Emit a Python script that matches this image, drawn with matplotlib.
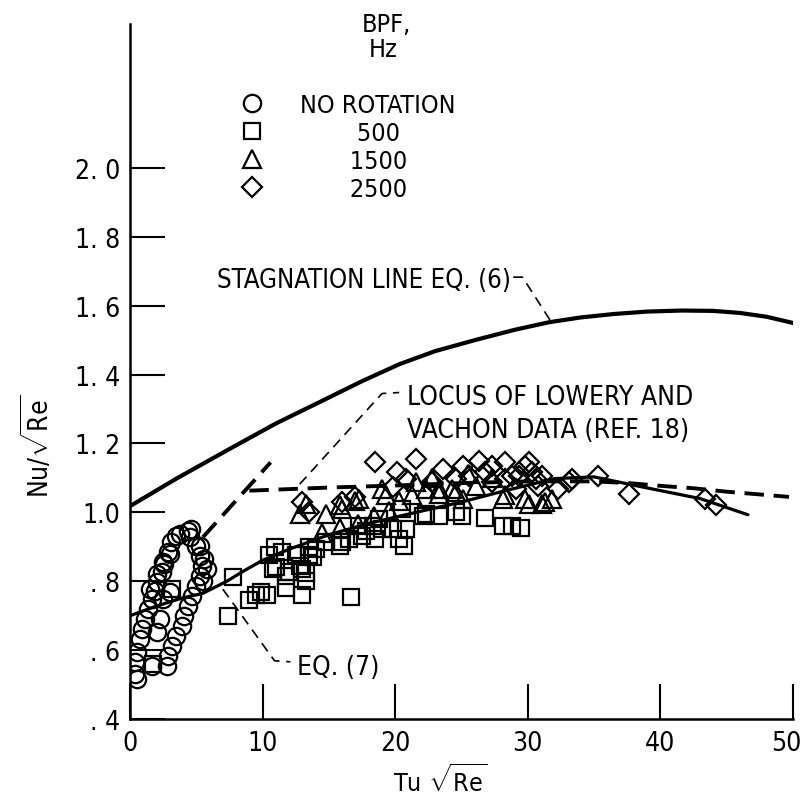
import matplotlib
matplotlib.use('Agg')
import matplotlib.pyplot as plt
from matplotlib import font_manager
from matplotlib.transforms import ScaledTranslation

# pick a narrow face if one is there
names = {f.name for f in font_manager.fontManager.ttflist}
if 'Liberation Sans Narrow' in names:
    FONT, STRETCH = 'Liberation Sans Narrow', 'normal'
else:
    FONT, STRETCH = 'DejaVu Sans', 'condensed'
plt.rcParams['font.family'] = [FONT, 'DejaVu Sans']
plt.rcParams['font.stretch'] = STRETCH
plt.rcParams['mathtext.fontset'] = 'custom'
plt.rcParams['mathtext.rm'] = FONT
plt.rcParams['mathtext.it'] = FONT

# --- data ---
# no rotation (circles)
circ_x = [4.4, 3.5, 4.5, 3.0, 2.6, 2.4, 2.0, 1.9, 1.65, 1.35, 1.1, 0.9, 0.75, 0.55, 0.4, 0.4, 0.55,
          5.0, 5.3, 5.4, 5.3, 5.0, 4.7, 4.4, 4.1, 3.9, 3.5, 3.2, 2.9, 2.8,
          2.3, 2.0, 1.65, 3.0, 2.5, 4.6, 3.8, 3.1, 2.9, 2.5, 5.3, 5.6, 5.8, 5.5, 2.0, 1.5]
circ_y = [0.946, 0.931, 0.928, 0.879, 0.850, 0.827, 0.798, 0.772, 0.748, 0.719, 0.690, 0.661, 0.632, 0.595, 0.566, 0.531, 0.516,
          0.902, 0.873, 0.844, 0.815, 0.786, 0.757, 0.728, 0.699, 0.670, 0.641, 0.612, 0.583, 0.554,
          0.690, 0.653, 0.554, 0.769, 0.748, 0.952, 0.937, 0.913, 0.885, 0.856, 0.903, 0.865, 0.835, 0.800, 0.820, 0.777]

# 500 Hz (squares)
sq_x = [1.7, 3.2, 7.4, 7.8, 9.0, 9.5, 9.9, 10.3, 10.5, 10.8, 10.9, 11.0, 11.5, 11.8, 11.8, 12.0, 12.5, 12.8,
        13.0, 13.0, 13.3, 13.3, 13.5, 13.5, 13.8, 14.0, 14.8, 15.8, 16.0, 16.5, 16.7, 17.3, 17.5, 17.8,
        18.3, 18.5, 18.8, 19.0, 19.8, 20.3, 20.5, 20.7, 20.8, 22.1, 22.3, 23.3, 24.6, 25.0, 26.8, 28.1,
        28.8, 29.5]
sq_y = [0.560, 0.777, 0.700, 0.811, 0.745, 0.760, 0.770, 0.760, 0.875, 0.835, 0.900, 0.840, 0.885, 0.815, 0.780, 0.826, 0.875, 0.845,
        0.835, 0.760, 0.800, 0.825, 0.900, 0.875, 0.870, 0.895, 0.913, 0.903, 0.913, 0.923, 0.755, 0.960, 0.932, 0.947,
        0.960, 0.923, 0.980, 0.952, 0.952, 0.923, 1.010, 0.903, 0.952, 0.990, 0.995, 0.990, 1.000, 0.990, 0.985, 0.960,
        0.960, 0.956]

# 1500 Hz (triangles)
tri_x = [12.8, 13.3, 14.5, 14.8, 15.8, 15.8, 16.0, 17.0, 17.2, 17.3, 18.4, 19.0, 19.3, 19.5, 20.3, 21.3, 21.6,
         22.3, 23.3, 23.3, 24.3, 24.6, 25.1, 26.1, 28.1, 28.3, 29.8, 30.1, 31.1, 31.3, 31.8, 22.8, 25.5, 27.3]
tri_y = [0.995, 1.025, 0.940, 0.995, 0.956, 1.020, 1.010, 1.034, 0.966, 1.040, 0.990, 1.068, 1.050, 1.005, 1.034, 1.050, 1.087,
         1.068, 1.053, 1.068, 1.068, 1.058, 1.039, 1.077, 1.039, 1.050, 1.040, 1.025, 1.025, 1.030, 1.040, 1.100, 1.110, 1.100]

# 2500 Hz (diamonds)
dia_x = [13.0, 13.5, 16.0, 17.0, 18.5, 19.8, 20.1, 20.8, 21.6, 22.8, 23.6, 24.6, 25.1, 25.6, 26.3, 26.8, 27.3, 27.3,
         28.3, 28.3, 28.8, 29.1, 29.3, 29.8, 30.1, 30.3, 30.6, 30.8, 31.1, 32.3, 33.1, 33.3, 35.3, 37.6, 43.4, 44.2]
dia_y = [1.030, 1.000, 1.030, 1.045, 1.145, 1.073, 1.116, 1.097, 1.155, 1.087, 1.126, 1.097, 1.135, 1.107, 1.150, 1.116, 1.135, 1.087,
         1.145, 1.097, 1.107, 1.068, 1.107, 1.135, 1.145, 1.116, 1.097, 1.077, 1.107, 1.068, 1.087, 1.097, 1.107, 1.053, 1.039, 1.020]

# stagnation line, eq. (6)
stag_x = [0, 3.5, 7.5, 11, 14.5, 17.5, 20.3, 23, 26, 29, 31.6, 34, 36.5, 39, 41.6, 44, 46, 48, 50]
stag_y = [1.018, 1.098, 1.184, 1.258, 1.324, 1.381, 1.430, 1.468, 1.500, 1.530, 1.552, 1.566, 1.576, 1.583, 1.586, 1.585, 1.579, 1.568, 1.550]

# eq. (7)
eq7_x = [0, 2, 4, 5.5, 7.3, 8.5, 10, 12, 15, 18, 21, 25, 28, 32, 35, 38.6, 43, 46.6]
eq7_y = [0.700, 0.728, 0.752, 0.765, 0.800, 0.828, 0.861, 0.893, 0.935, 0.968, 0.995, 1.030, 1.060, 1.098, 1.103, 1.074, 1.040, 0.993]

# locus of Lowery and Vachon data
loc1_x = [5.5, 10.6]
loc1_y = [0.928, 1.145]
loc2_x = [9.0, 15, 20, 25, 30, 35, 37.6, 40, 42.5, 45, 49.7]
loc2_y = [1.063, 1.072, 1.078, 1.085, 1.090, 1.090, 1.085, 1.077, 1.070, 1.060, 1.045]

yticks = [0.4, 0.6, 0.8, 1.0, 1.2, 1.4, 1.6, 1.8, 2.0]
ylabels = ['. 4', '. 6', '. 8', '1.0', '1. 2', '1. 4', '1. 6', '1. 8', '2. 0']
xticks = [0, 10, 20, 30, 40, 50]
xlabels = ['0', '10', '20', '30', '40', '50']

W, H = 806, 803
fig = plt.figure(figsize=(W / 100, H / 100), dpi=100)
ax = fig.add_axes([130 / W, 83 / H, 663 / W, 695 / H])
ax.set_xlim(0, 50)
ax.set_ylim(0.4, 2.418)

for s in ['top', 'right']:
    ax.spines[s].set_visible(False)
for s in ['left', 'bottom']:
    ax.spines[s].set_linewidth(1.8)

ax.set_xticks(xticks)
ax.set_xticklabels(xlabels)
ax.set_yticks(yticks)
ax.set_yticklabels(ylabels)
ax.tick_params(direction='in', length=25, width=1.5, labelsize=19)
ax.tick_params(axis='x', pad=8)
ax.tick_params(axis='y', pad=7)
# keep the last x label inside the picture
last = ax.get_xticklabels()[-1]
last.set_transform(last.get_transform() + ScaledTranslation(-5 / 72, 0, fig.dpi_scale_trans))

# curves
ax.plot(stag_x, stag_y, color='k', lw=3.0, solid_capstyle='round')
ax.plot(eq7_x, eq7_y, color='k', lw=2.3, solid_capstyle='round')
ax.plot(loc1_x, loc1_y, color='k', lw=2.8, dashes=(5, 2.5))
ax.plot(loc2_x, loc2_y, color='k', lw=2.8, dashes=(5, 2.5))

mk = dict(ls='none', mfc='none', mec='k', mew=1.6)
h1, = ax.plot(circ_x, circ_y, marker='o', ms=12.5, label='NO ROTATION', **mk)
h2, = ax.plot(sq_x, sq_y, marker='s', ms=11, label='        500', **mk)
h3, = ax.plot(tri_x, tri_y, marker='^', ms=13, label='       1500', **mk)
h4, = ax.plot(dia_x, dia_y, marker='D', ms=10, label='       2500', **mk)

leg = ax.legend(handles=[h1, h2, h3, h4], loc='upper left',
                bbox_to_anchor=(240 / W, 1 - 94 / H), bbox_transform=fig.transFigure,
                frameon=False, borderpad=0, borderaxespad=0, handlelength=1.0,
                handletextpad=1.4, labelspacing=0.16, fontsize=18)
fig.text(386 / W, 1 - 25 / H, 'BPF,', ha='center', va='center', fontsize=18)
fig.text(383 / W, 1 - 50 / H, 'Hz', ha='center', va='center', fontsize=18)

# labels and leaders
lead = dict(color='k', lw=1.2, dashes=(6, 4))
ax.text(6.54, 1.654, 'STAGNATION LINE EQ. (6)', fontsize=18.5, va='baseline')
ax.plot([28.9, 29.6, 31.7], [1.683, 1.683, 1.557], **lead)
ax.text(20.9, 1.315, 'LOCUS OF LOWERY AND', fontsize=19, va='baseline')
ax.text(20.9, 1.219, 'VACHON DATA (REF. 18)', fontsize=19, va='baseline')
ax.plot([12.8, 19.0, 20.3], [1.082, 1.345, 1.348], **lead)
ax.text(12.6, 0.531, 'EQ. (7)', fontsize=19, va='baseline')
ax.plot([7.0, 10.9, 12.1], [0.777, 0.569, 0.566], **lead)

fig.text(38 / W, 1 - 446 / H, r'Nu/$\sqrt{\mathrm{Re}}$', rotation=90, ha='center', va='center', fontsize=19)
fig.text(440 / W, 1 - 781 / H, r'Tu $\sqrt{\mathrm{Re}}$', ha='center', va='center', fontsize=18)

fig.savefig('out.png', dpi=100)
